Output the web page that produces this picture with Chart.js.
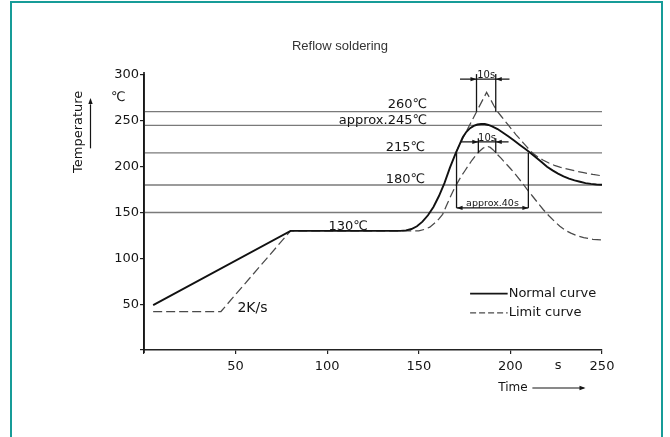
<!DOCTYPE html>
<html>
<head>
<meta charset="utf-8">
<title>Reflow soldering</title>
<script src="https://cdn.jsdelivr.net/npm/chart.js@4.4.1/dist/chart.umd.min.js"></script>
<style>
  html, body { margin: 0; padding: 0; background: #fff; }
  #wrap { position: relative; width: 670px; height: 437px; overflow: hidden; }
  #frame { position: absolute; left: 10px; top: 1px; width: 653px; height: 470px; border: 2px solid #179c98; box-sizing: border-box; }
  #reflowChart { position: absolute; left: 0; top: 0; }
</style>
</head>
<body>
<div id="wrap">
  <div id="frame"></div>
  <canvas id="reflowChart" width="670" height="437"></canvas>
</div>
<script>
/* =========================================
   Reflow soldering profile
   Normal curve + upper / lower limit curves
   ========================================= */

/* --- Axis ticks --- */
var xTicks = [0, 50, 100, 150, 200, 250];
var yTicks = [0, 50, 100, 150, 200, 250, 300];

/* --- Reference temperature levels (grey lines) --- */
var levelTemps = [150, 180, 215, 245, 260];

/* --- Normal curve (s, degC) --- */
var normalTime = [5, 80, 140, 143, 146, 149, 152, 155, 158, 161, 164, 167, 170, 172, 174, 176, 178, 180, 182, 184, 186, 188, 190, 193, 196, 199, 202, 205, 208, 211, 214, 217, 220, 223, 226, 229, 232, 235, 238, 241, 244, 247, 250];
var normalTemp = [49, 130, 130, 130.5, 132, 135, 140, 147, 156, 168, 182, 199, 214, 223, 232, 238, 242, 244.5, 246, 246.5, 246.5, 245.5, 244, 241, 237, 233, 228.5, 224, 219.5, 215, 210, 205, 200, 196, 192.5, 189.5, 187, 185, 183.5, 182, 181.2, 180.6, 180.3];

/* --- Upper limit curve --- */
var upperTime = [170, 172, 174, 187, 189, 191, 193, 195, 197, 199, 201, 203, 205, 207, 209, 211, 213, 215, 218, 221, 224, 227, 230, 235, 240, 245, 250];
var upperTemp = [214, 223, 231, 281, 274, 266.5, 260, 255, 250, 245, 240, 235, 230.5, 226, 221.5, 217, 213.5, 210.5, 207, 204, 201.5, 199.5, 198, 195.5, 193.5, 191.5, 190];

/* --- Lower limit curve --- */
var lowerTime = [5, 42, 80, 150, 153, 156, 159, 161, 163, 165, 167, 169, 171, 173, 175, 177, 179, 181, 183, 185, 187, 189, 191, 193, 195, 197, 200, 203, 206, 209, 212, 215, 218, 221, 224, 227, 230, 233, 236, 240, 245, 250];
var lowerTemp = [42, 42, 130, 130, 131.5, 134, 139, 143, 148, 157, 166, 174.5, 182, 189, 195, 201, 207, 212, 216.5, 220, 222.5, 221, 217.5, 213, 209, 204.5, 198, 191, 183.5, 175.5, 168, 160.5, 153, 146.5, 140.5, 135, 130.5, 127.5, 125, 122.5, 120.8, 120];

/* --- Texts --- */
var levelLabels = ['260\u2103', 'approx.245\u2103', '215\u2103', '180\u2103'];
var legendLabels = ['Normal curve', 'Limit curve'];

var INK = '#151515';
var DASH_INK = '#4a4a4a';
var FONT = '"DejaVu Sans", sans-serif';

function toPoints(times, temps) {
  var pts = [];
  for (var i = 0; i < times.length; i++) pts.push({ x: times[i], y: temps[i] });
  return pts;
}

function arrowHead(ctx, x, y, dx, dy) {
  var len = 6, half = 2.2;
  ctx.beginPath();
  ctx.moveTo(x, y);
  ctx.lineTo(x - dx * len - dy * half, y - dy * len + dx * half);
  ctx.lineTo(x - dx * len + dy * half, y - dy * len - dx * half);
  ctx.closePath();
  ctx.fill();
}

function hLine(ctx, x1, x2, y) {
  ctx.beginPath(); ctx.moveTo(x1, y); ctx.lineTo(x2, y); ctx.stroke();
}

function vLine(ctx, x, y1, y2) {
  ctx.beginPath(); ctx.moveTo(x, y1); ctx.lineTo(x, y2); ctx.stroke();
}

/* --- Overlay: title, annotations, legend, axis extras --- */
var overlayPlugin = {
  id: 'reflowOverlay',
  afterDatasetsDraw: function (chart) {
    var ctx = chart.ctx;
    var xs = chart.scales.x, ys = chart.scales.y;
    var area = chart.chartArea;
    function px(t) { return xs.getPixelForValue(t); }
    function py(T) { return ys.getPixelForValue(T); }

    ctx.save();
    ctx.fillStyle = INK;
    ctx.strokeStyle = INK;
    ctx.lineWidth = 1.3;

    // axis overshoot (origin cross, top of y axis)
    ctx.lineWidth = 1.6;
    vLine(ctx, area.left, area.top - 3, area.bottom + 3);
    ctx.lineWidth = 1.3;

    // title
    ctx.font = '13px "Liberation Sans", Arial, sans-serif';
    ctx.fillStyle = '#333';
    ctx.textAlign = 'center';
    ctx.textBaseline = 'middle';
    ctx.fillText('Reflow soldering', 340, 46);
    ctx.fillStyle = INK;

    // level labels
    ctx.font = '13px ' + FONT;
    ctx.textAlign = 'right';
    ctx.textBaseline = 'alphabetic';
    ctx.fillText(levelLabels[0], px(154.5), py(263.5));
    ctx.fillText(levelLabels[1], px(154.5), py(246.5));
    ctx.fillText(levelLabels[2], px(153.5), py(217.5));
    ctx.fillText(levelLabels[3], px(153.5), py(182.5));
    ctx.textAlign = 'center';
    ctx.fillText('130\u2103', px(111.5), py(131));
    ctx.textAlign = 'left';
    ctx.font = '14px ' + FONT;
    ctx.fillText('2K/s', px(51), py(42));

    // upper 10 s window
    vLine(ctx, px(181.5), py(301), py(260));
    vLine(ctx, px(192), py(301), py(260));
    hLine(ctx, px(172.5), px(199.5), py(295.5));
    arrowHead(ctx, px(181.5), py(295.5), 1, 0);
    arrowHead(ctx, px(192), py(295.5), -1, 0);
    ctx.font = '10px ' + FONT;
    ctx.textAlign = 'center';
    ctx.fillText('10s', px(186.75), py(296.5));

    // lower 10 s window
    vLine(ctx, px(182.5), py(231), py(215));
    vLine(ctx, px(192), py(231), py(215));
    hLine(ctx, px(172.5), px(199), py(227));
    arrowHead(ctx, px(182.5), py(227), 1, 0);
    arrowHead(ctx, px(192), py(227), -1, 0);
    ctx.fillText('10s', px(187.25), py(228));

    // approx. 40 s window
    vLine(ctx, px(170.6), py(215), py(155));
    vLine(ctx, px(209.8), py(215), py(155));
    hLine(ctx, px(170.6), px(209.8), py(155));
    arrowHead(ctx, px(170.6), py(155), -1, 0);
    arrowHead(ctx, px(209.8), py(155), 1, 0);
    ctx.font = '9.5px ' + FONT;
    ctx.fillText('approx.40s', px(190.2), py(157.5));

    // legend
    var lx1 = px(178), lx2 = px(198.5);
    ctx.lineWidth = 1.8;
    hLine(ctx, lx1, lx2, py(61.5));
    ctx.setLineDash([6, 3]);
    ctx.lineWidth = 1.3;
    ctx.strokeStyle = DASH_INK;
    hLine(ctx, lx1, lx2, py(40.5));
    ctx.setLineDash([]);
    ctx.strokeStyle = INK;
    ctx.font = '13px ' + FONT;
    ctx.textAlign = 'left';
    ctx.textBaseline = 'middle';
    ctx.fillText(legendLabels[0], lx2 + 1, py(61.5));
    ctx.fillText(legendLabels[1], lx2 + 1, py(40.5));

    // axis units and titles
    ctx.textAlign = 'center';
    ctx.fillText('\u2103', px(-14), py(275));
    ctx.fillText('s', px(226), area.bottom + 16);
    ctx.font = '12px ' + FONT;
    ctx.fillText('Time', px(201.4), area.bottom + 38);
    ctx.lineWidth = 1.2;
    hLine(ctx, px(212), px(240), area.bottom + 38);
    arrowHead(ctx, px(241), area.bottom + 38, 1, 0);

    ctx.save();
    ctx.font = '13px ' + FONT;
    ctx.translate(79, py(238));
    ctx.rotate(-Math.PI / 2);
    ctx.fillText('Temperature', 0, 0);
    ctx.restore();
    vLine(ctx, 90.5, py(220), py(268));
    arrowHead(ctx, 90.5, py(275), 0, -1);

    ctx.restore();
  }
};

/* --- Datasets --- */
var datasets = [
  {
    label: legendLabels[0],
    data: toPoints(normalTime, normalTemp),
    borderColor: '#111',
    borderWidth: 1.9,
    order: 0
  },
  {
    label: legendLabels[1],
    data: toPoints(upperTime, upperTemp),
    borderColor: DASH_INK,
    borderWidth: 1.25,
    borderDash: [9, 4],
    order: 1
  },
  {
    label: legendLabels[1],
    data: toPoints(lowerTime, lowerTemp),
    borderColor: DASH_INK,
    borderWidth: 1.25,
    borderDash: [9, 4],
    order: 2
  }
];

for (var i = 0; i < levelTemps.length; i++) {
  datasets.push({
    label: '',
    data: [{ x: xTicks[0], y: levelTemps[i] }, { x: xTicks[xTicks.length - 1], y: levelTemps[i] }],
    borderColor: '#7a7a7a',
    borderWidth: 1.3,
    order: 10
  });
}

var tickFont = { family: '"DejaVu Sans", sans-serif', size: 13 };

new Chart(document.getElementById('reflowChart'), {
  type: 'line',
  data: { datasets: datasets },
  options: {
    responsive: false,
    animation: false,
    events: [],
    elements: { point: { radius: 0 }, line: { tension: 0, fill: false } },
    layout: { padding: { left: 100, right: 68, top: 75, bottom: 57 } },
    plugins: {
      legend: { display: false },
      tooltip: { enabled: false },
      title: { display: false }
    },
    scales: {
      x: {
        type: 'linear',
        min: xTicks[0],
        max: xTicks[xTicks.length - 1],
        afterBuildTicks: function (scale) {
          scale.ticks = xTicks.map(function (v) { return { value: v }; });
        },
        afterFit: function (scale) { scale.height = 30; },
        grid: { drawOnChartArea: false, color: '#222', tickLength: 4, lineWidth: 1.2 },
        border: { color: '#222', width: 1.6 },
        ticks: {
          color: INK,
          font: tickFont,
          padding: 5,
          maxRotation: 0,
          callback: function (v) { return v === 0 ? '' : v; }
        }
      },
      y: {
        type: 'linear',
        min: yTicks[0],
        max: yTicks[yTicks.length - 1],
        afterBuildTicks: function (scale) {
          scale.ticks = yTicks.map(function (v) { return { value: v }; });
        },
        afterFit: function (scale) { scale.width = 44; },
        grid: { drawOnChartArea: false, color: '#222', tickLength: 4, lineWidth: 1.2 },
        border: { color: '#222', width: 1.6 },
        ticks: {
          color: INK,
          font: tickFont,
          padding: 1,
          callback: function (v) { return v === 0 ? '' : v; }
        }
      }
    }
  },
  plugins: [overlayPlugin]
});
</script>
</body>
</html>
